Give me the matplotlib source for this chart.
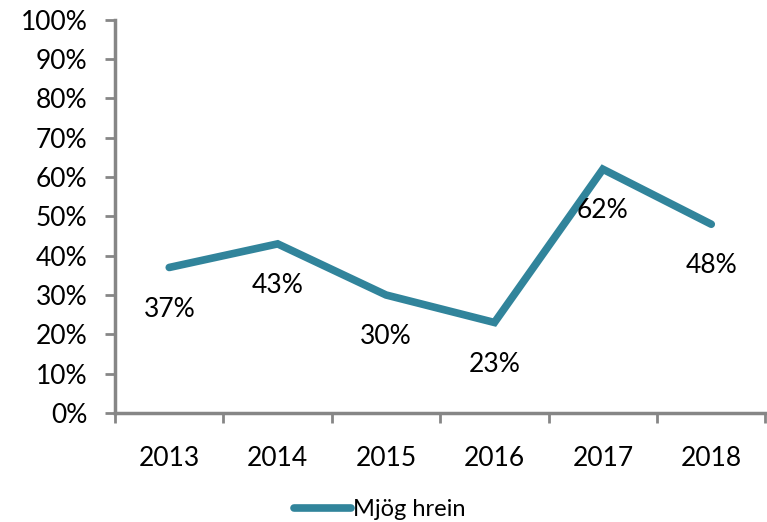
import matplotlib.pyplot as plt
from matplotlib.ticker import PercentFormatter

years = ['2013', '2014', '2015', '2016', '2017', '2018']
values = [37, 43, 30, 23, 62, 48]
series_name = 'Mjög hrein'

plt.rcParams['font.family'] = ['Lato', 'DejaVu Sans']

fig = plt.figure(figsize=(7.67, 5.22), dpi=100)
ax = fig.add_axes([0.15, 0.209, 0.848, 0.753])

x = range(len(years))
line, = ax.plot(x, values, color='#31849B', linewidth=5.5, solid_capstyle='round',
                solid_joinstyle='miter', label=series_name)

for xi, v in zip(x, values):
    ax.annotate(f'{v}%', (xi, v), xytext=(0, -30), textcoords='offset points',
                ha='center', va='center', fontsize=19)

ax.set_xlim(-0.5, len(years) - 0.5)
ax.set_ylim(0, 100)
ax.set_yticks(range(0, 101, 10))
ax.yaxis.set_major_formatter(PercentFormatter(decimals=0))
ax.set_xticks(list(x))
ax.set_xticklabels(years)
ax.set_xticks([i - 0.5 for i in range(len(years) + 1)], minor=True)
ax.tick_params(axis='x', which='major', length=0, pad=24, labelsize=19)
ax.tick_params(axis='x', which='minor', length=7, width=2, color='#868686', direction='out')
ax.tick_params(axis='y', length=7, width=2, color='#868686', labelsize=19, pad=13)

for s in ['top', 'right']:
    ax.spines[s].set_visible(False)
for s in ['left', 'bottom']:
    ax.spines[s].set_color('#868686')
    ax.spines[s].set_linewidth(2.5)

fig.legend(handles=[line], loc='lower center', bbox_to_anchor=(0.495, -0.037),
           frameon=False, fontsize=17, handlelength=2.4, handletextpad=0.1)

fig.savefig('out.png', dpi=100)
